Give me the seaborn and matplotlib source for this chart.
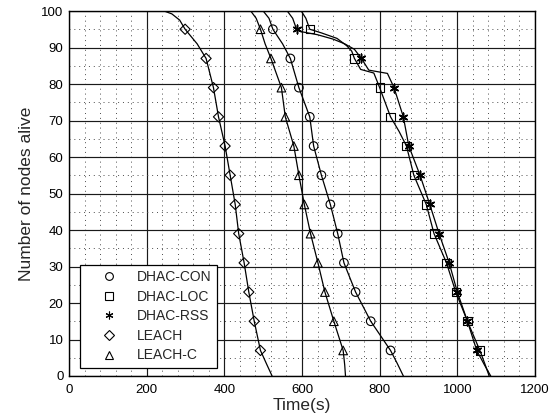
import matplotlib
matplotlib.use("Agg")
import matplotlib.pyplot as plt
from matplotlib.lines import Line2D
from matplotlib.ticker import MultipleLocator
import numpy as np
import pandas as pd
import seaborn as sns

# Network lifetime: nodes still alive over simulation time
protocols = ["DHAC-CON", "DHAC-LOC", "DHAC-RSS", "LEACH", "LEACH-C"]

con_time = [60, 500, 515, 525, 550, 570, 592, 620, 630, 650, 673, 692, 708, 738, 777, 828, 845, 861]
con_alive = [100, 100, 98, 95, 91, 87, 79, 71, 63, 55, 47, 39, 31, 23, 15, 7, 3.5, 0]

loc_time = [60, 598, 610, 620, 650, 690, 715, 728, 735, 751, 785, 800, 828, 850, 869, 888, 920, 940,
            972, 996, 1026, 1058, 1072, 1082]
loc_alive = [100, 100, 98, 95, 94, 92.5, 90.5, 89, 87, 84, 83, 79, 71, 67, 63, 55, 47, 39,
             31, 23, 15, 7, 3, 0]

rss_time = [60, 562, 576, 586, 600, 640, 680, 710, 735, 753, 772, 820, 837, 861, 875, 904, 929, 953,
            979, 1000, 1026, 1050, 1070, 1086]
rss_alive = [100, 100, 98, 95, 94.3, 93.5, 92.3, 91, 89.5, 87, 83.8, 82.9, 79, 71, 63, 55, 47, 39,
             31, 23, 15, 7, 3, 0]

leach_time = [60, 245, 265, 285, 299, 330, 353, 372, 385, 402, 415, 428, 437, 451, 463, 477, 493, 510, 523]
leach_alive = [100, 100, 99.2, 97.5, 95, 91, 87, 79, 71, 63, 55, 47, 39, 31, 23, 15, 7, 3, 0]

leachc_time = [60, 468, 482, 493, 505, 520, 547, 557, 579, 592, 606, 622, 641, 659, 682, 706, 710, 712]
leachc_alive = [100, 100, 98, 95, 91, 87, 79, 71, 63, 55, 47, 39, 31, 23, 15, 7, 3, 0]

# A marker every eighth node
marker_levels = [95, 87, 79, 71, 63, 55, 47, 39, 31, 23, 15, 7]

series = {
    "DHAC-CON": (con_time, con_alive),
    "DHAC-LOC": (loc_time, loc_alive),
    "DHAC-RSS": (rss_time, rss_alive),
    "LEACH": (leach_time, leach_alive),
    "LEACH-C": (leachc_time, leachc_alive),
}
marker_style = {
    "DHAC-CON": "o",
    "DHAC-LOC": "s",
    "DHAC-RSS": (6, 2, 0),
    "LEACH": "D",
    "LEACH-C": "^",
}
marker_size = {"DHAC-CON": 6.2, "DHAC-LOC": 6.0, "DHAC-RSS": 6.2, "LEACH": 5.2, "LEACH-C": 6.2}

frames = []
for name in protocols:
    t, a = series[name]
    frames.append(pd.DataFrame({"time": t, "alive": a, "protocol": name}))
df = pd.concat(frames, ignore_index=True)

sns.set_style("white")
plt.rcParams["font.family"] = ["Liberation Sans", "DejaVu Sans"]

fig = plt.figure(figsize=(5.6, 4.18), dpi=100)
ax = fig.add_axes([69 / 560, 1 - 376 / 418, 466 / 560, 365 / 418])

for name in protocols:
    sub = df[df["protocol"] == name]
    sns.lineplot(data=sub, x="time", y="alive", color="black", lw=0.9,
                 sort=False, estimator=None, ax=ax, legend=False)
    pts = sub[sub["alive"].isin(marker_levels)]
    m = marker_style[name]
    if name == "DHAC-RSS":
        sns.scatterplot(data=pts, x="time", y="alive", marker=m, s=marker_size[name] ** 2,
                        color="black", linewidths=1.1, ax=ax, legend=False, zorder=3)
    else:
        sns.scatterplot(data=pts, x="time", y="alive", marker=m, s=marker_size[name] ** 2,
                        facecolors="none", edgecolors="black", linewidths=0.8,
                        ax=ax, legend=False, zorder=3)

ax.set_xlim(0, 1200)
ax.set_ylim(0, 100)
ax.xaxis.set_major_locator(MultipleLocator(200))
ax.xaxis.set_minor_locator(MultipleLocator(40))
ax.yaxis.set_major_locator(MultipleLocator(10))
ax.yaxis.set_minor_locator(MultipleLocator(5))
ax.grid(which="major", color="0.1", lw=0.85, ls="-")
ax.grid(which="minor", color="0.3", lw=0.7, ls=(0, (1, 4)))
ax.set_axisbelow(True)
ax.tick_params(which="both", length=0, labelsize=9.5, colors="black")
ax.tick_params(axis="x", pad=6)
ax.tick_params(axis="y", pad=4)
for sp in ax.spines.values():
    sp.set_color("black")
    sp.set_linewidth(1.0)

ax.set_xlabel("Time(s)", fontsize=12.5, labelpad=1)
ax.set_ylabel("Number of nodes alive", fontsize=12.5, labelpad=5)

handles = [Line2D([], [], ls="none", marker=marker_style[n], markersize=marker_size[n] * 0.9,
                  markerfacecolor="none", markeredgecolor="black", markeredgewidth=0.8,
                  color="black") for n in protocols]
leg = ax.legend(handles, protocols, loc="lower left", bbox_to_anchor=(0.0236, 0.022),
                borderaxespad=0, fontsize=10, frameon=True, fancybox=False,
                edgecolor="black", framealpha=1, borderpad=0.4, handlelength=3.4,
                handletextpad=0.3, labelspacing=0.4)
leg.get_frame().set_linewidth(0.9)

fig.savefig("out.png", dpi=100)
